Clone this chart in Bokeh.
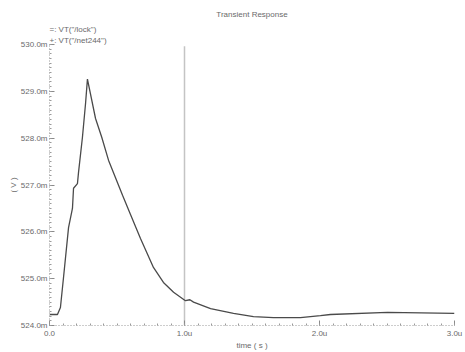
from bokeh.plotting import figure
from bokeh.models import FixedTicker, Range1d, Title
from bokeh.embed import file_html
from bokeh.resources import INLINE

# time in microseconds, voltage in millivolts
time_us = [0.0, 0.059, 0.081, 0.104, 0.141, 0.170, 0.178, 0.207, 0.215, 0.244, 0.267, 0.281,
           0.341, 0.387, 0.437, 0.541, 0.600, 0.674, 0.770, 0.844, 0.919, 1.007, 1.040, 1.067,
           1.193, 1.363, 1.511, 1.659, 1.859, 2.007, 2.081, 2.504, 3.0]
net244_mv = [524.235, 524.235, 524.385, 525.03, 526.09, 526.50, 526.93, 527.03, 527.27, 528.02, 528.74, 529.26,
             528.42, 528.02, 527.53, 526.78, 526.37, 525.86, 525.24, 524.92, 524.71, 524.53, 524.55, 524.50,
             524.36, 524.26, 524.19, 524.17, 524.17, 524.21, 524.235, 524.28, 524.26]

lock_x = [1.0]
lock_y0 = [524.0]
lock_y1 = [529.96]

x_ticks = [0, 1, 2, 3]
x_tick_labels = ["0.0", "1.0u", "2.0u", "3.0u"]
y_ticks = [524, 525, 526, 527, 528, 529, 530]
y_tick_labels = ["524.0m", "525.0m", "526.0m", "527.0m", "528.0m", "529.0m", "530.0m"]

FONT = "Liberation Sans"
TXT = "#6a6a6a"

p = figure(width=465, height=352, output_backend="svg", toolbar_location=None,
           x_range=Range1d(0, 3), y_range=Range1d(524, 530),
           min_border_left=49, min_border_right=11, min_border_top=44, min_border_bottom=27)
p.outline_line_color = None
p.xgrid.visible = False
p.ygrid.visible = False
p.background_fill_color = "white"
p.border_fill_color = "white"

p.segment(x0=lock_x, y0=lock_y0, x1=lock_x, y1=lock_y1, line_color="#c4c4c4", line_width=1.5)
p.line(time_us, net244_mv, line_color="#4a4a4a", line_width=1.3)

for ax, ticks, labels in ((p.xaxis[0], x_ticks, x_tick_labels), (p.yaxis[0], y_ticks, y_tick_labels)):
    ax.ticker = FixedTicker(ticks=ticks, minor_ticks=[t / 10 for t in range(int(ticks[0]) * 10, int(ticks[-1]) * 10 + 1)])
    ax.major_label_overrides = {t: l for t, l in zip(ticks, labels)}
    ax.axis_line_color = "#9a9a9a"
    ax.axis_line_dash = "1 2"
    ax.major_tick_line_color = "#8a8a8a"
    ax.minor_tick_line_color = "#9a9a9a"
    ax.major_tick_in = 5
    ax.major_tick_out = 0
    ax.minor_tick_in = 2
    ax.minor_tick_out = 0
    ax.major_label_text_font = FONT
    ax.major_label_text_font_size = "8px"
    ax.major_label_text_color = TXT
    ax.axis_label_text_font = FONT
    ax.axis_label_text_font_size = "8px"
    ax.axis_label_text_font_style = "normal"
    ax.axis_label_text_color = TXT

p.xaxis[0].major_label_standoff = 3
p.xaxis[0].axis_label = "time ( s )"
p.xaxis[0].axis_label_standoff = 0
p.yaxis[0].major_label_standoff = 2
p.yaxis[0].axis_label = "( V )"
p.yaxis[0].axis_label_standoff = 0

def title(text, align, standoff):
    return Title(text=text, align=align, standoff=standoff, text_font=FONT, text_font_size="8px",
                 text_font_style="normal", text_color=TXT)

p.title = None
leg2 = title("+: VT(\"/net244\")", "left", 0)
leg1 = title("=: VT(\"/lock\")", "left", 0)
main = title("Transient Response", "center", 8)
p.above = [leg2, leg1, main]

open("out.html", "w").write(file_html(p, INLINE))
